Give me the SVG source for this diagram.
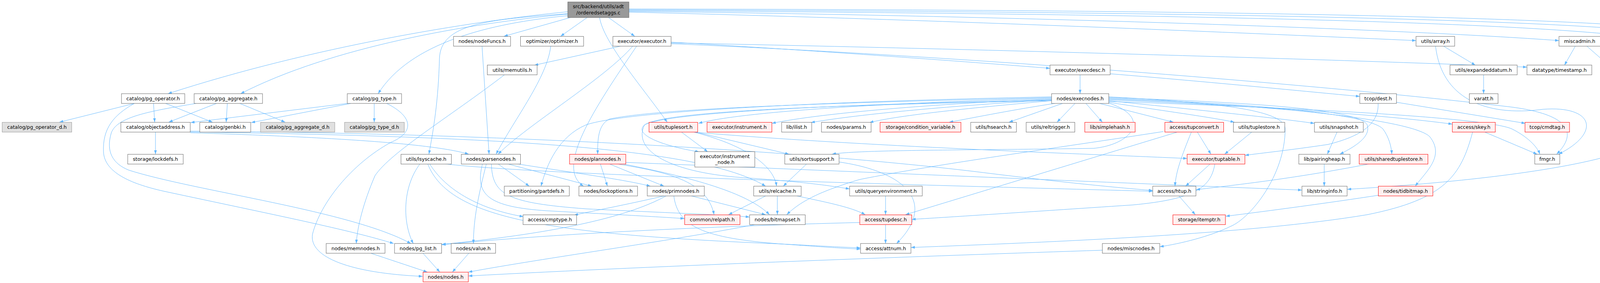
<svg xmlns="http://www.w3.org/2000/svg" width="6458" height="725" viewBox="0 0 6458 725">
<defs>
<style>
.n rect{fill:#ffffff;stroke:#666666;stroke-width:1}
.g rect{fill:#e0e0e0;stroke:#999999;stroke-width:1}
.r rect{fill:#fff0f0;stroke:#ff0000;stroke-width:1}
.t rect{fill:#999999;stroke:#666666;stroke-width:1}
text{font-family:"DejaVu Sans","Liberation Sans",sans-serif;font-size:12.5px;fill:#000000;text-anchor:middle}
#edges path{fill:none;stroke:#63b8ff;stroke-width:1;marker-end:url(#ah)}
</style>
<marker id="ah" viewBox="0 0 10 7" refX="10" refY="3.5" markerWidth="10" markerHeight="7" markerUnits="userSpaceOnUse" orient="auto"><path d="M0,0L10,3.5L0,7z" fill="#63b8ff"/></marker>
</defs>
<rect width="6458" height="725" fill="#ffffff"/>
<g id="edges">
<path d="M1460,45 L1290,93"/>
<path d="M1503,45 L1435,93"/>
<path d="M1558,45 L1625,93"/>
<path d="M1535,45 C1545,110 1650,230 1708,313"/>
<path d="M1454,35 C1250,50 1128,60 1125,150 C1122,260 1110,330 1098,395"/>
<path d="M1454,30 C1200,55 800,120 430,240"/>
<path d="M1454,36 C1200,60 850,120 616,240"/>
<path d="M1454,40 C1250,60 1050,110 968,240"/>
<path d="M1610,31 C2400,50 3200,85 3625,104"/>
<path d="M1610,29 C2600,40 3600,75 3991,104"/>
<path d="M1610,27 C2800,35 3900,50 4236,101"/>
<path d="M1610,25 C2900,30 4100,45 4351,97"/>
<path d="M1610,23 C3000,25 4200,40 4444,95"/>
<path d="M1234,118 L1252,395"/>
<path d="M1410,118 C1400,200 1320,300 1270,395"/>
<path d="M1590,118 L1368,167"/>
<path d="M1620,118 C1550,200 1350,320 1275,395"/>
<path d="M1630,118 C1520,280 1420,430 1494,477"/>
<path d="M1718,108 C2100,130 2500,160 2688,175"/>
<path d="M1718,112 C2600,150 3500,230 3850,272 C4020,290 4040,340 3985,395"/>
<path d="M1718,110 C2500,125 3500,155 3909,172"/>
<path d="M2765,192 L2765,240"/>
<path d="M2842,189 C3100,210 3350,235 3481,247"/>
<path d="M1291,192 C1150,300 1000,390 960,450 C930,520 915,580 912,624"/>
<path d="M2692,252 C2300,262 1900,285 1788,316"/>
<path d="M2692,254 C2400,265 2100,290 1976,316"/>
<path d="M2692,256 C2450,270 2200,292 2076,314"/>
<path d="M2692,258 C2500,275 2300,295 2226,314"/>
<path d="M2700,265 C2600,280 2500,300 2430,313"/>
<path d="M2720,265 L2583,313"/>
<path d="M2752,265 L2706,313"/>
<path d="M2780,265 L2822,313"/>
<path d="M2815,265 L3004,313"/>
<path d="M2838,262 C2950,280 3100,300 3160,313"/>
<path d="M2838,258 C3050,280 3250,300 3365,316"/>
<path d="M2838,256 C3200,270 3550,295 3718,318"/>
<path d="M2838,260 C3300,275 3800,300 3870,330 C3910,350 3935,375 3942,395"/>
<path d="M2838,250 C3200,262 3480,280 3500,320 C3510,350 3470,375 3430,395"/>
<path d="M2838,252 C3200,265 3500,290 3540,330 C3555,350 3562,375 3563,395"/>
<path d="M2838,254 C3300,270 3620,310 3660,350 C3700,400 3650,440 3623,477"/>
<path d="M2838,248 C3100,262 3290,280 3290,330 C3290,450 3200,560 3150,580 C3100,605 3020,625 2969,632"/>
<path d="M2692,250 C2200,262 1700,275 1560,305 C1530,320 1530,360 1530,395"/>
<path d="M2692,248 C2100,260 1600,285 1500,320 C1430,350 1400,420 1385,477"/>
<path d="M2692,256 C2100,268 1700,290 1650,320 C1620,345 1700,375 1790,389"/>
<path d="M2838,264 C2950,300 2900,370 2800,380 C2500,385 2200,383 2130,395"/>
<path d="M2692,258 C2100,270 1700,285 1650,320 C1620,380 1700,440 1900,455 C2050,465 2120,475 2175,484"/>
<path d="M1744,338 L1812,389"/>
<path d="M1780,338 L2020,395"/>
<path d="M1775,338 C1900,370 1980,420 1988,477"/>
<path d="M1770,338 C2200,375 2800,395 3039,406"/>
<path d="M398,338 L398,395"/>
<path d="M487,340 C800,350 1100,365 1200,395"/>
<path d="M487,336 C1200,340 2000,380 2500,440 C2700,465 2850,480 2951,488"/>
<path d="M487,338 C1300,350 1800,380 1960,477"/>
<path d="M1075,420 C1030,480 1030,570 1058,624"/>
<path d="M1100,420 C1150,500 1250,540 1340,555"/>
<path d="M1095,420 C1150,560 1400,600 2000,625 C2100,630 2150,633 2203,635"/>
<path d="M1140,420 C1400,450 2400,475 2951,490"/>
<path d="M1275,420 L1355,477"/>
<path d="M1300,420 L1515,477"/>
<path d="M1325,420 C1450,440 1600,460 1665,477"/>
<path d="M1245,420 C1225,500 1212,560 1212,624"/>
<path d="M1235,420 C1215,500 1250,530 1400,540 C1550,548 1680,555 1752,560"/>
<path d="M1258,420 C1260,500 1300,520 1500,535 C1700,545 1850,550 1919,556"/>
<path d="M1700,502 C1600,525 1520,540 1470,551"/>
<path d="M1705,502 C1600,560 1400,600 1131,626"/>
<path d="M1770,502 L1960,550"/>
<path d="M1725,502 C1735,580 1800,610 2000,625 C2100,632 2150,636 2203,638"/>
<path d="M1537,420 L1555,477"/>
<path d="M1560,420 L1700,477"/>
<path d="M1580,420 C1700,440 1810,460 1828,550"/>
<path d="M1595,420 C1800,460 1920,500 1970,550"/>
<path d="M1602,416 C2200,440 2900,470 3333,487"/>
<path d="M2065,420 L2005,477"/>
<path d="M2148,415 C2320,440 2400,520 2295,624"/>
<path d="M1960,502 L1865,550"/>
<path d="M1990,502 L1990,550"/>
<path d="M2040,502 C2100,515 2180,530 2215,550"/>
<path d="M1935,575 C1700,620 1400,660 1199,697"/>
<path d="M2267,575 L2267,624"/>
<path d="M2201,570 C1800,580 1400,600 1131,627"/>
<path d="M2267,502 L2267,550"/>
<path d="M3018,502 L3060,550"/>
<path d="M3050,338 C3025,400 3010,440 3008,477"/>
<path d="M3065,338 L3100,395"/>
<path d="M3015,338 L2318,550"/>
<path d="M2978,337 C2700,380 2400,420 2200,460 C2100,490 2050,515 2014,550"/>
<path d="M3098,420 L3035,477"/>
<path d="M3110,420 C3100,480 3060,510 2900,525 C2600,545 2450,555 2334,562"/>
<path d="M3205,338 L3135,395"/>
<path d="M3423,338 L3398,395"/>
<path d="M3390,420 L3390,477"/>
<path d="M3505,420 C3300,460 3150,475 3062,486"/>
<path d="M3530,500 C3400,520 3250,540 3138,554"/>
<path d="M3800,338 L3935,395"/>
<path d="M3770,338 C3740,450 3700,510 3500,550 C3200,600 2700,620 2332,634"/>
<path d="M3528,265 C3530,320 3480,350 3400,370 C3300,385 3230,392 3187,398"/>
<path d="M3575,262 L3905,316"/>
<path d="M3695,118 L3777,167"/>
<path d="M3675,118 C3690,250 3800,300 3950,280 C4080,270 4100,340 3990,395"/>
<path d="M3798,192 L3798,240"/>
<path d="M4033,118 L4005,167"/>
<path d="M4062,118 L4118,167"/>
<path d="M4097,113 C4150,125 4200,150 4206,220 C4210,260 4195,290 4189,313"/>
<path d="M4287,118 L4311,167"/>
<path d="M4327,116 C4700,135 5100,165 5389,178"/>
<path d="M4327,114 C4800,130 5200,150 5455,168"/>
<path d="M4321,192 L4328,240"/>
<path d="M4342,192 L4427,240"/>
<path d="M4310,192 C4270,280 4230,340 4150,390 C4000,440 3700,470 3449,485"/>
<path d="M4545,264 C4400,290 4300,310 4218,321"/>
<path d="M5389,186 C5000,195 4700,215 4615,240"/>
<path d="M5389,187 C5000,198 4800,220 4726,241"/>
<path d="M5389,188 C5100,200 4880,222 4816,242"/>
<path d="M5389,189 C5150,203 4960,225 4912,242"/>
<path d="M5389,190 C5200,206 5060,225 5011,242"/>
<path d="M5389,190 C5250,210 5150,228 5110,241"/>
<path d="M5389,189 L5222,240"/>
<path d="M5397,192 L5345,240"/>
<path d="M5423,192 L5478,240"/>
<path d="M5431,190 L5568,240"/>
<path d="M5431,188 C5550,205 5630,225 5672,242"/>
<path d="M5431,187 C5600,210 5730,228 5793,243"/>
<path d="M5431,186 C5650,205 5820,228 5885,244"/>
<path d="M5431,185 C5700,200 5900,225 5982,243"/>
<path d="M5431,184 C5800,200 6050,222 6123,243"/>
<path d="M5431,183 C5900,200 6200,222 6282,243"/>
<path d="M5431,182 C5950,195 6280,220 6365,243"/>
<path d="M5431,192 C5800,198 6150,200 6220,240 C6260,270 6180,305 6100,320"/>
<path d="M6045,265 L6056,313"/>
<path d="M6292,265 L6215,313"/>
<path d="M6312,265 L6312,313"/>
<path d="M6330,265 L6396,313"/>
<path d="M344,265 L152,313"/>
<path d="M393,265 L396,313"/>
<path d="M424,265 L544,313"/>
<path d="M344,265 C290,295 262,330 265,390 C268,440 330,470 420,490 C700,550 900,590 1008,624"/>
<path d="M554,265 L432,313"/>
<path d="M582,265 L579,313"/>
<path d="M614,265 L730,313"/>
<path d="M502,265 C380,285 300,300 285,340 C270,390 290,420 330,436 C500,490 900,540 1052,624"/>
<path d="M889,265 L488,314"/>
<path d="M898,265 L643,314"/>
<path d="M958,265 L958,313"/>
<path d="M990,265 C1060,300 1060,340 1000,365 C900,420 820,520 800,600 C790,660 900,700 1082,708"/>
<path d="M950,649 L1094,697"/>
<path d="M1083,649 L1126,697"/>
<path d="M1200,649 L1158,697"/>
<path d="M2822,641 C2400,655 1700,680 1199,707"/>
</g>
<g id="n_top" class="t"><rect x="1453.5" y="5" width="156.5" height="40"/><text x="1531.75" y="20.5">src/backend/utils/adt</text><text x="1531.75" y="36.5">/orderedsetaggs.c</text></g>
<g id="n_nodeFuncs" class="n"><rect x="1161" y="93.3" width="146" height="25"/><text x="1234" y="110.3">nodes/nodeFuncs.h</text></g>
<g id="n_optimizer" class="n"><rect x="1332.5" y="93.3" width="161.5" height="25"/><text x="1413.25" y="110.3">optimizer/optimizer.h</text></g>
<g id="n_executor" class="n"><rect x="1569" y="93.3" width="149" height="25"/><text x="1643.5" y="110.3">executor/executor.h</text></g>
<g id="n_array" class="n"><rect x="3625" y="93.3" width="99" height="25"/><text x="3674.5" y="110.3">utils/array.h</text></g>
<g id="n_miscadmin" class="n"><rect x="3991" y="93.3" width="106" height="25"/><text x="4044" y="110.3">miscadmin.h</text></g>
<g id="n_postgres" class="n"><rect x="4236" y="93.3" width="91" height="25"/><text x="4281.5" y="110.3">postgres.h</text></g>
<g id="n_math" class="g"><rect x="4351" y="93.3" width="68" height="25"/><text x="4385" y="110.3">math.h</text></g>
<g id="n_fmgrprotos" class="g"><rect x="4444" y="93.3" width="139" height="25"/><text x="4513.5" y="110.3">utils/fmgrprotos.h</text></g>
<g id="n_memutils" class="n"><rect x="1247.5" y="166.7" width="127.5" height="25"/><text x="1311.25" y="183.7">utils/memutils.h</text></g>
<g id="n_execdesc" class="n"><rect x="2688" y="166.7" width="154" height="25"/><text x="2765" y="183.7">executor/execdesc.h</text></g>
<g id="n_expandeddatum" class="n"><rect x="3712" y="166.7" width="172" height="25"/><text x="3798" y="183.7">utils/expandeddatum.h</text></g>
<g id="n_timestamp" class="n"><rect x="3909" y="166.7" width="166" height="25"/><text x="3992" y="183.7">datatype/timestamp.h</text></g>
<g id="n_pgtime" class="n"><rect x="4100" y="166.7" width="80" height="25"/><text x="4140" y="183.7">pgtime.h</text></g>
<g id="n_elog" class="n"><rect x="4271" y="166.7" width="94" height="25"/><text x="4318" y="183.7">utils/elog.h</text></g>
<g id="n_c" class="n"><rect x="5389" y="166.7" width="42" height="25"/><text x="5410" y="183.7">c.h</text></g>
<g id="n_palloc" class="n"><rect x="5455" y="166.7" width="106" height="25"/><text x="5508" y="183.7">utils/palloc.h</text></g>
<g id="n_pg_operator" class="n"><rect x="311" y="240" width="162" height="25"/><text x="392" y="257">catalog/pg_operator.h</text></g>
<g id="n_pg_aggregate" class="n"><rect x="497" y="240" width="175" height="25"/><text x="584.5" y="257">catalog/pg_aggregate.h</text></g>
<g id="n_pg_type" class="n"><rect x="889" y="240" width="139" height="25"/><text x="958.5" y="257">catalog/pg_type.h</text></g>
<g id="n_execnodes" class="n"><rect x="2692" y="240" width="146.5" height="25"/><text x="2765.25" y="257">nodes/execnodes.h</text></g>
<g id="n_dest" class="n"><rect x="3481" y="240" width="94" height="25"/><text x="3528" y="257">tcop/dest.h</text></g>
<g id="n_varatt" class="n"><rect x="3761.5" y="240" width="73.5" height="25"/><text x="3798.25" y="257">varatt.h</text></g>
<g id="n_setjmp" class="g"><rect x="4294" y="240" width="78" height="25"/><text x="4333" y="257">setjmp.h</text></g>
<g id="n_errcodes" class="g"><rect x="4397" y="240" width="123" height="25"/><text x="4458.5" y="257">utils/errcodes.h</text></g>
<g id="n_string" class="n"><rect x="4544" y="240" width="71" height="25"/><text x="4579.5" y="257">string.h</text></g>
<g id="n_stdalign" class="g"><rect x="4639" y="240" width="87" height="25"/><text x="4682.5" y="257">stdalign.h</text></g>
<g id="n_stdio" class="g"><rect x="4750.5" y="240" width="66" height="25"/><text x="4783.5" y="257">stdio.h</text></g>
<g id="n_stdlib" class="g"><rect x="4842" y="240" width="70.5" height="25"/><text x="4877.25" y="257">stdlib.h</text></g>
<g id="n_stddef" class="g"><rect x="4937" y="240" width="74" height="25"/><text x="4974" y="257">stddef.h</text></g>
<g id="n_stdarg" class="g"><rect x="5036" y="240" width="74" height="25"/><text x="5073" y="257">stdarg.h</text></g>
<g id="n_pg_config" class="g"><rect x="5135" y="240" width="95.7" height="25"/><text x="5182.85" y="257">pg_config.h</text></g>
<g id="n_pg_config_manual" class="n"><rect x="5254.3" y="240" width="152.4" height="25"/><text x="5330.5" y="257">pg_config_manual.h</text></g>
<g id="n_pg_config_os" class="g"><rect x="5431" y="240" width="118.5" height="25"/><text x="5490.25" y="257">pg_config_os.h</text></g>
<g id="n_assert" class="g"><rect x="5573.4" y="240" width="74.3" height="25"/><text x="5610.55" y="257">assert.h</text></g>
<g id="n_systypes" class="g"><rect x="5671.6" y="240" width="96" height="25"/><text x="5719.6" y="257">sys/types.h</text></g>
<g id="n_errno" class="g"><rect x="5793" y="240" width="67" height="25"/><text x="5826.5" y="257">errno.h</text></g>
<g id="n_locale" class="g"><rect x="5885" y="240" width="73" height="25"/><text x="5921.5" y="257">locale.h</text></g>
<g id="n_postgres_ext" class="n"><rect x="5981.6" y="240" width="118.5" height="25"/><text x="6040.85" y="257">postgres_ext.h</text></g>
<g id="n_stdbool" class="g"><rect x="6123" y="240" width="84" height="25"/><text x="6165" y="257">stdbool.h</text></g>
<g id="n_port" class="n"><rect x="6282" y="240" width="59.5" height="25"/><text x="6311.75" y="257">port.h</text></g>
<g id="n_inttypes" class="g"><rect x="6365" y="240" width="87" height="25"/><text x="6408.5" y="257">inttypes.h</text></g>
<g id="n_pg_operator_d" class="g"><rect x="5.6" y="313.4" width="178" height="25"/><text x="94.6" y="330.4">catalog/pg_operator_d.h</text></g>
<g id="n_objectaddress" class="n"><rect x="309.4" y="313.4" width="177.6" height="25"/><text x="398.2" y="330.4">catalog/objectaddress.h</text></g>
<g id="n_genbki" class="n"><rect x="511.4" y="313.4" width="130.5" height="25"/><text x="576.65" y="330.4">catalog/genbki.h</text></g>
<g id="n_pg_aggregate_d" class="g"><rect x="667" y="313.4" width="190" height="25"/><text x="762" y="330.4">catalog/pg_aggregate_d.h</text></g>
<g id="n_pg_type_d" class="g"><rect x="882" y="313.4" width="153" height="25"/><text x="958.5" y="330.4">catalog/pg_type_d.h</text></g>
<g id="n_tuplesort" class="r"><rect x="1661.5" y="313.4" width="124.5" height="25"/><text x="1723.75" y="330.4">utils/tuplesort.h</text></g>
<g id="n_instrument" class="r"><rect x="1810" y="313.4" width="166" height="25"/><text x="1893" y="330.4">executor/instrument.h</text></g>
<g id="n_ilist" class="n"><rect x="2001" y="313.4" width="77" height="25"/><text x="2039.5" y="330.4">lib/ilist.h</text></g>
<g id="n_params" class="n"><rect x="2103" y="313.4" width="127" height="25"/><text x="2166.5" y="330.4">nodes/params.h</text></g>
<g id="n_condvar" class="r"><rect x="2253" y="313.4" width="207" height="25"/><text x="2356.5" y="330.4">storage/condition_variable.h</text></g>
<g id="n_hsearch" class="n"><rect x="2485" y="313.4" width="117" height="25"/><text x="2543.5" y="330.4">utils/hsearch.h</text></g>
<g id="n_reltrigger" class="n"><rect x="2627" y="313.4" width="124.5" height="25"/><text x="2689.25" y="330.4">utils/reltrigger.h</text></g>
<g id="n_simplehash" class="r"><rect x="2777" y="313.4" width="129" height="25"/><text x="2841.5" y="330.4">lib/simplehash.h</text></g>
<g id="n_tupconvert" class="r"><rect x="2982" y="313.4" width="150.5" height="25"/><text x="3057.25" y="330.4">access/tupconvert.h</text></g>
<g id="n_tuplestore" class="n"><rect x="3157.5" y="313.4" width="131.5" height="25"/><text x="3223.25" y="330.4">utils/tuplestore.h</text></g>
<g id="n_snapshot" class="n"><rect x="3365" y="313.4" width="125" height="25"/><text x="3427.5" y="330.4">utils/snapshot.h</text></g>
<g id="n_skey" class="r"><rect x="3718" y="313.4" width="110" height="25"/><text x="3773" y="330.4">access/skey.h</text></g>
<g id="n_cmdtag" class="r"><rect x="3904" y="313.4" width="114" height="25"/><text x="3961" y="330.4">tcop/cmdtag.h</text></g>
<g id="n_signal" class="g"><rect x="4145" y="313.4" width="73" height="25"/><text x="4181.5" y="330.4">signal.h</text></g>
<g id="n_stdint" class="g"><rect x="6028.6" y="313.4" width="71" height="25"/><text x="6064.1" y="330.4">stdint.h</text></g>
<g id="n_netinet" class="r"><rect x="6145" y="313.4" width="95.5" height="25"/><text x="6192.75" y="330.4">netinet/in.h</text></g>
<g id="n_arpa" class="r"><rect x="6266" y="313.4" width="91.6" height="25"/><text x="6311.8" y="330.4">arpa/inet.h</text></g>
<g id="n_ctype" class="g"><rect x="6381.5" y="313.4" width="70.5" height="25"/><text x="6416.75" y="330.4">ctype.h</text></g>
<g id="n_lockdefs" class="n"><rect x="327" y="395.3" width="142" height="25"/><text x="398" y="412.3">storage/lockdefs.h</text></g>
<g id="n_lsyscache" class="n"><rect x="1026.5" y="395.3" width="129" height="25"/><text x="1091" y="412.3">utils/lsyscache.h</text></g>
<g id="n_parsenodes" class="n"><rect x="1181" y="395.3" width="151.5" height="25"/><text x="1256.75" y="412.3">nodes/parsenodes.h</text></g>
<g id="n_plannodes" class="r"><rect x="1458" y="395.3" width="144" height="25"/><text x="1530" y="412.3">nodes/plannodes.h</text></g>
<g id="n_instrument_node" class="n"><rect x="1778.7" y="388.5" width="153.6" height="39.5"/><text x="1855.5" y="404.5">executor/instrument</text><text x="1855.5" y="420">_node.h</text></g>
<g id="n_sortsupport" class="n"><rect x="2009" y="395.3" width="139" height="25"/><text x="2078.5" y="412.3">utils/sortsupport.h</text></g>
<g id="n_tuptable" class="r"><rect x="3039" y="395.3" width="148" height="25"/><text x="3113" y="412.3">executor/tuptable.h</text></g>
<g id="n_pairingheap" class="n"><rect x="3325" y="395.3" width="131" height="25"/><text x="3390.5" y="412.3">lib/pairingheap.h</text></g>
<g id="n_sharedtuplestore" class="r"><rect x="3479.5" y="395.3" width="176" height="25"/><text x="3567.5" y="412.3">utils/sharedtuplestore.h</text></g>
<g id="n_fmgr" class="n"><rect x="3929" y="395.3" width="64" height="25"/><text x="3961" y="412.3">fmgr.h</text></g>
<g id="n_partdefs" class="n"><rect x="1291" y="477" width="166.4" height="25"/><text x="1374.2" y="494">partitioning/partdefs.h</text></g>
<g id="n_lockoptions" class="n"><rect x="1482" y="477" width="150" height="25"/><text x="1557" y="494">nodes/lockoptions.h</text></g>
<g id="n_primnodes" class="n"><rect x="1657" y="477" width="146" height="25"/><text x="1730" y="494">nodes/primnodes.h</text></g>
<g id="n_relcache" class="n"><rect x="1929.5" y="477" width="121.5" height="25"/><text x="1990.25" y="494">utils/relcache.h</text></g>
<g id="n_queryenv" class="n"><rect x="2175" y="477" width="186" height="25"/><text x="2268" y="494">utils/queryenvironment.h</text></g>
<g id="n_htup" class="n"><rect x="2951" y="477" width="110.6" height="25"/><text x="3006.3" y="494">access/htup.h</text></g>
<g id="n_stringinfo" class="n"><rect x="3333" y="477" width="115.6" height="25"/><text x="3390.8" y="494">lib/stringinfo.h</text></g>
<g id="n_tidbitmap" class="r"><rect x="3528.6" y="477" width="139.5" height="25"/><text x="3598.35" y="494">nodes/tidbitmap.h</text></g>
<g id="n_cmptype" class="n"><rect x="1339" y="550.4" width="137" height="25"/><text x="1407.5" y="567.4">access/cmptype.h</text></g>
<g id="n_relpath" class="r"><rect x="1752.7" y="550.4" width="141.7" height="25"/><text x="1823.55" y="567.4">common/relpath.h</text></g>
<g id="n_bitmapset" class="n"><rect x="1919" y="550.4" width="142.4" height="25"/><text x="1990.2" y="567.4">nodes/bitmapset.h</text></g>
<g id="n_tupdesc" class="r"><rect x="2201" y="550.4" width="133" height="25"/><text x="2267.5" y="567.4">access/tupdesc.h</text></g>
<g id="n_itemptr" class="r"><rect x="3002.6" y="550.4" width="134.5" height="25"/><text x="3069.85" y="567.4">storage/itemptr.h</text></g>
<g id="n_memnodes" class="n"><rect x="835" y="623.8" width="150.6" height="25"/><text x="910.3" y="640.8">nodes/memnodes.h</text></g>
<g id="n_pg_list" class="n"><rect x="1010" y="623.8" width="120.5" height="25"/><text x="1070.25" y="640.8">nodes/pg_list.h</text></g>
<g id="n_value" class="n"><rect x="1155" y="623.8" width="113.7" height="25"/><text x="1211.85" y="640.8">nodes/value.h</text></g>
<g id="n_attnum" class="n"><rect x="2203" y="623.8" width="129" height="25"/><text x="2267.5" y="640.8">access/attnum.h</text></g>
<g id="n_miscnodes" class="n"><rect x="2822" y="623.8" width="147" height="25"/><text x="2895.5" y="640.8">nodes/miscnodes.h</text></g>
<g id="n_nodes" class="r"><rect x="1083" y="697.2" width="116" height="25"/><text x="1141" y="714.2">nodes/nodes.h</text></g>
</svg>
